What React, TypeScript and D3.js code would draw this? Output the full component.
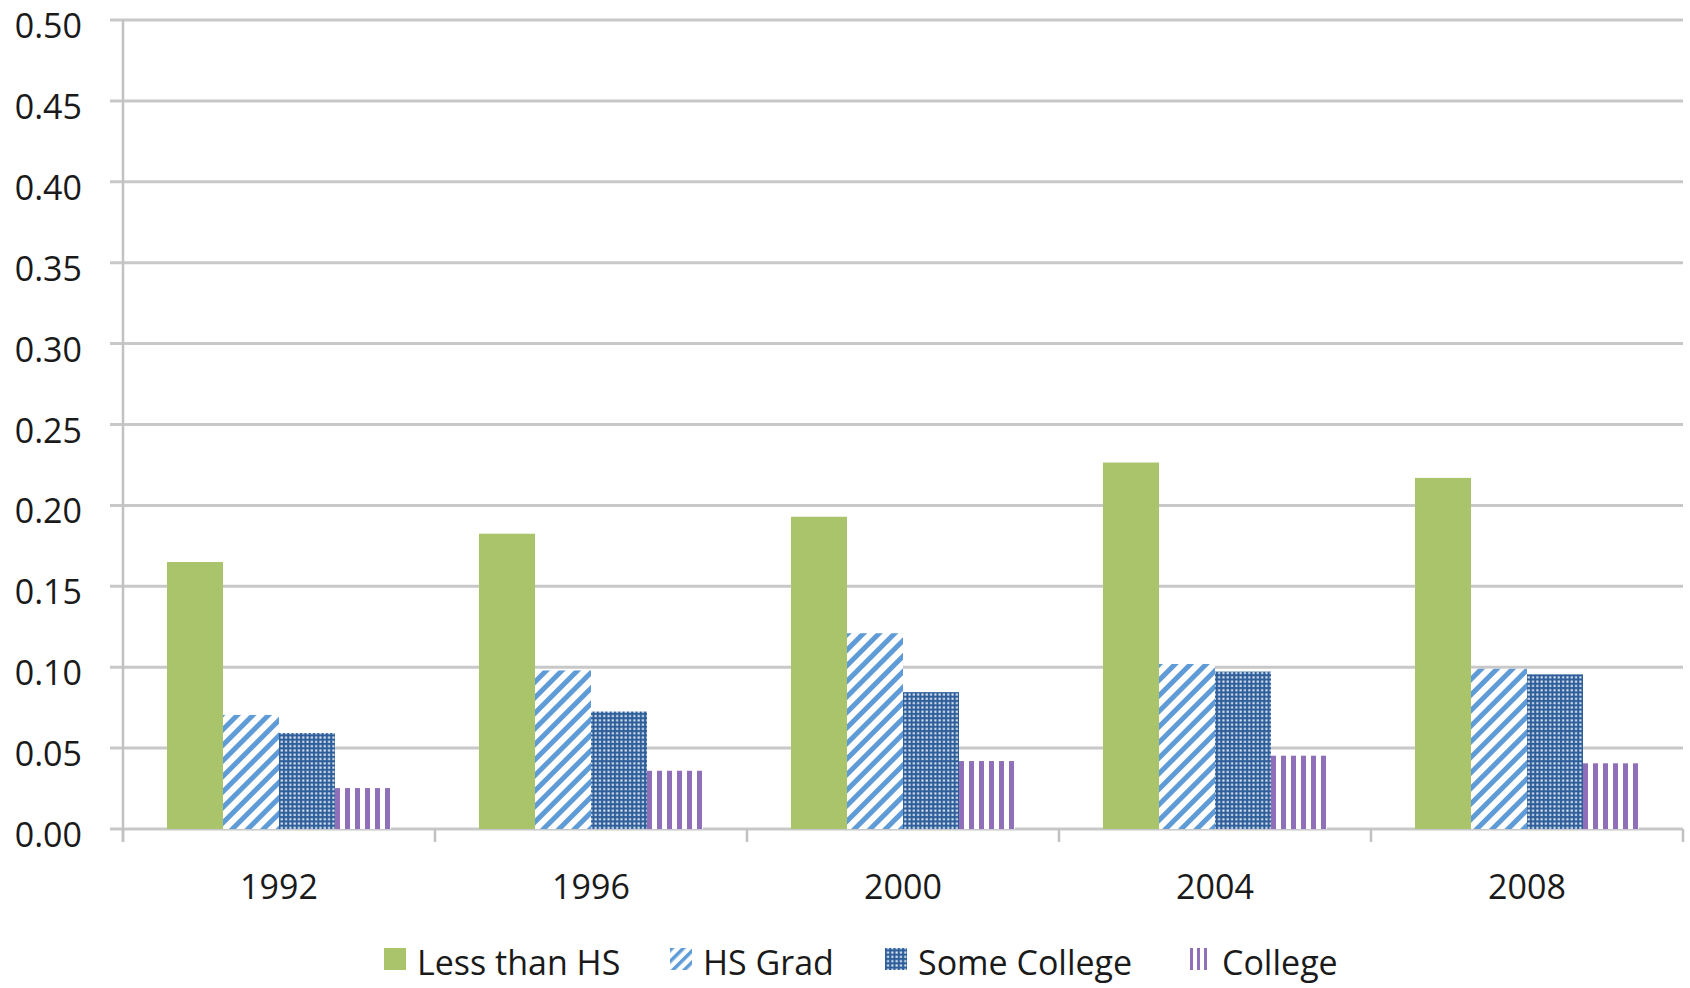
import React from "react";
import * as d3 from "d3";

const years = ["1992", "1996", "2000", "2004", "2008"];
const seriesNames = ["Less than HS", "HS Grad", "Some College", "College"];
const lessThanHS = [0.165, 0.1825, 0.193, 0.2265, 0.217];
const hsGrad = [0.0705, 0.098, 0.121, 0.102, 0.099];
const someCollege = [0.0593, 0.0726, 0.0846, 0.0973, 0.0956];
const college = [0.0253, 0.036, 0.042, 0.0453, 0.0406];
const yTicks = [0, 0.05, 0.1, 0.15, 0.2, 0.25, 0.3, 0.35, 0.4, 0.45, 0.5];

const W = 1690;
const H = 988;
const plot = { left: 123, right: 1683, top: 20, bottom: 829 };
const FONT = "'Open Sans', 'Noto Sans', sans-serif";
const GREEN = "#a9c46b";
const LIGHTBLUE = "#5f9bd6";
const DARKBLUE = "#2e5f9b";
const PURPLE = "#8f70b8";
const legendX = [384, 670, 885, 1189];

export default function App() {
  const values = [lessThanHS, hsGrad, someCollege, college];
  const y = d3.scaleLinear().domain([0, 0.5]).range([plot.bottom, plot.top]);
  const x0 = d3.scaleBand<string>().domain(years).range([plot.left, plot.right]).paddingInner(0).paddingOuter(0);
  const bw = x0.bandwidth();
  const x1 = d3
    .scaleBand<string>()
    .domain(seriesNames)
    .range([bw * 0.141, bw * 0.859])
    .padding(0);

  const fillFor = (si: number, key: string) => {
    if (si === 0) return GREEN;
    if (si === 1) return "url(#pat-hs)";
    if (si === 2) return "url(#pat-sc)";
    return `url(#pat-col-${key})`;
  };

  const bars: any[] = [];
  const colPatterns: any[] = [];
  years.forEach((yr, gi) => {
    seriesNames.forEach((s, si) => {
      const v = values[si][gi];
      const bx = (x0(yr) as number) + (x1(s) as number);
      const by = y(v);
      const key = `${gi}`;
      if (si === 3) {
        colPatterns.push(
          <pattern key={key} id={`pat-col-${key}`} patternUnits="userSpaceOnUse" x={bx} y={0} width={10} height={10}>
            <rect x={0} y={0} width={10} height={10} fill="#fff" />
            <rect x={0} y={0} width={5} height={10} fill={PURPLE} />
          </pattern>
        );
      }
      bars.push(
        <rect key={`${gi}-${si}`} x={bx} y={by} width={x1.bandwidth()} height={plot.bottom - by} fill={fillFor(si, key)} />
      );
    });
  });

  return (
    <div style={{ position: "fixed", left: 0, top: 0, width: W, height: H, background: "#fff" }}>
      <svg width={W} height={H} viewBox={`0 0 ${W} ${H}`} style={{ display: "block" }}>
        <defs>
          <pattern id="pat-hs" patternUnits="userSpaceOnUse" width={11} height={11} patternTransform="rotate(45)">
            <rect x={0} y={0} width={11} height={11} fill="#fff" />
            <rect x={0} y={0} width={5} height={11} fill={LIGHTBLUE} />
          </pattern>
          <pattern id="pat-sc" patternUnits="userSpaceOnUse" width={4.3} height={4.3}>
            <rect x={0} y={0} width={4.3} height={4.3} fill={DARKBLUE} />
            <rect x={1.2} y={1.2} width={2.1} height={2.1} fill="#e3eaf3" />
          </pattern>
          <pattern id="pat-hs-legend" patternUnits="userSpaceOnUse" width={8} height={8} patternTransform="rotate(45)">
            <rect x={0} y={0} width={8} height={8} fill="#fff" />
            <rect x={0} y={0} width={3.5} height={8} fill={LIGHTBLUE} />
          </pattern>
          <pattern id="pat-col-legend" patternUnits="userSpaceOnUse" x={legendX[3]} y={0} width={7} height={10}>
            <rect x={0} y={0} width={7} height={10} fill="#fff" />
            <rect x={1} y={0} width={3} height={10} fill={PURPLE} />
          </pattern>
          {colPatterns}
        </defs>

        {/* gridlines */}
        {yTicks.map((t) => (
          <line key={t} x1={110} x2={plot.right} y1={y(t)} y2={y(t)} stroke="#c8c8c8" strokeWidth={3} />
        ))}
        {/* y axis */}
        <line x1={plot.left} x2={plot.left} y1={plot.top} y2={plot.bottom + 13} stroke="#c2c2c2" strokeWidth={2.5} />
        {/* x ticks */}
        {[...years.map((yr) => x0(yr) as number), plot.right].map((xx, i) => (
          <line key={i} x1={xx} x2={xx} y1={plot.bottom} y2={plot.bottom + 13} stroke="#c2c2c2" strokeWidth={2.5} />
        ))}

        {bars}

        {/* y labels */}
        {yTicks.map((t) => (
          <text key={t} x={82} y={y(t) + 18} textAnchor="end" fontFamily={FONT} fontSize={34} fill="#1a1a1a">
            {d3.format(".2f")(t)}
          </text>
        ))}
        {/* x labels */}
        {years.map((yr) => (
          <text key={yr} x={(x0(yr) as number) + bw / 2} y={899} textAnchor="middle" fontFamily={FONT} fontSize={34} fill="#1a1a1a">
            {yr}
          </text>
        ))}

        {/* legend */}
        {seriesNames.map((s, i) => (
          <g key={s}>
            <rect
              x={legendX[i]}
              y={948}
              width={22}
              height={22}
              fill={i === 0 ? GREEN : i === 1 ? "url(#pat-hs-legend)" : i === 2 ? "url(#pat-sc)" : "url(#pat-col-legend)"}
            />
            <text x={legendX[i] + 33} y={975} fontFamily={FONT} fontSize={34} fill="#1a1a1a">
              {s}
            </text>
          </g>
        ))}
      </svg>
    </div>
  );
}
